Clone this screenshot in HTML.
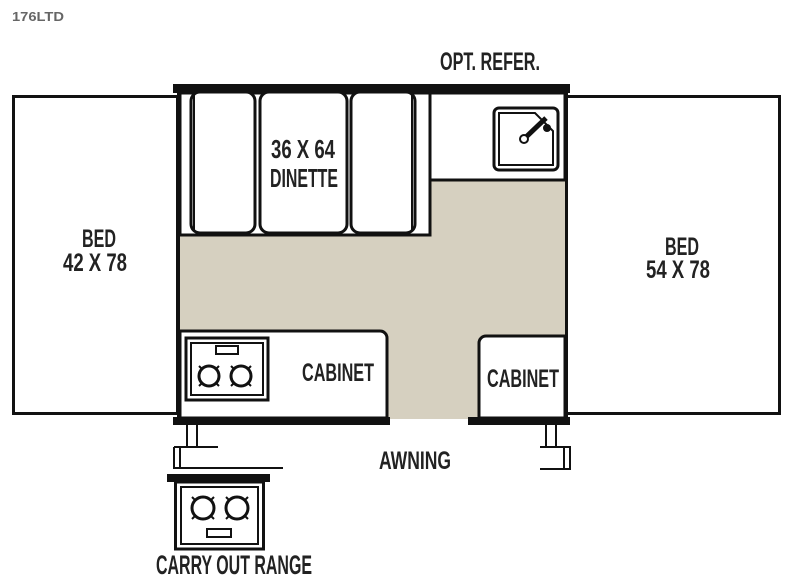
<!DOCTYPE html>
<html><head><meta charset="utf-8"><style>
html,body{margin:0;padding:0;background:#fff;}
svg{display:block;}
text{font-family:"Liberation Sans Narrow","Liberation Sans",sans-serif;font-weight:bold;fill:#222;}
</style></head><body>
<svg width="800" height="584" viewBox="0 0 800 584" xmlns="http://www.w3.org/2000/svg">
<text x="12" y="21" style="font-size:13px;fill:#666" textLength="52" lengthAdjust="spacingAndGlyphs">176LTD</text>

<rect x="13.5" y="96.5" width="164" height="317" fill="#fff" stroke="#111" stroke-width="3"/>
<rect x="566.5" y="96.5" width="213" height="317" fill="#fff" stroke="#111" stroke-width="3"/>

<rect x="178" y="92" width="388" height="327" fill="#d6d0c0"/>
<line x1="178.5" y1="90" x2="178.5" y2="420" stroke="#111" stroke-width="3"/>
<line x1="566.5" y1="90" x2="566.5" y2="420" stroke="#111" stroke-width="3"/>
<rect x="173" y="84" width="397" height="9" fill="#111"/>
<rect x="173" y="417" width="217" height="8" fill="#111"/>
<rect x="468" y="417" width="102" height="8" fill="#111"/>

<rect x="180" y="93" width="250" height="142" fill="#fff" stroke="#111" stroke-width="3"/>
<rect x="191" y="92" width="64" height="141" rx="9" fill="#fff" stroke="#111" stroke-width="3"/>
<rect x="260" y="92" width="87" height="141" rx="9" fill="#fff" stroke="#111" stroke-width="3"/>
<rect x="351" y="92" width="64" height="141" rx="9" fill="#fff" stroke="#111" stroke-width="3"/>
<line x1="194" y1="95" x2="194" y2="230" stroke="#111" stroke-width="2"/>
<line x1="412" y1="95" x2="412" y2="230" stroke="#111" stroke-width="2"/>
<text x="303" y="158" text-anchor="middle" style="font-size:26px" textLength="64" lengthAdjust="spacingAndGlyphs">36 X 64</text>
<text x="304" y="187" text-anchor="middle" style="font-size:26px" textLength="68" lengthAdjust="spacingAndGlyphs">DINETTE</text>

<rect x="430" y="93" width="135" height="87" fill="#fff" stroke="#111" stroke-width="3"/>
<rect x="494" y="108" width="64" height="62" rx="5" fill="#fff" stroke="#111" stroke-width="3"/>
<path d="M499 113 H535 L553 131 V165 H499 Z" fill="#fff" stroke="#111" stroke-width="2"/>
<line x1="526" y1="137" x2="546" y2="118" stroke="#111" stroke-width="5"/>
<circle cx="524" cy="139" r="4" fill="#fff" stroke="#111" stroke-width="2"/>
<circle cx="547" cy="128" r="4" fill="#111"/>

<path d="M180 331 H380 a7 7 0 0 1 7 7 V418 H180 Z" fill="#fff" stroke="#111" stroke-width="3"/>
<rect x="186" y="338" width="82" height="62" fill="#fff" stroke="#111" stroke-width="3"/>
<rect x="191" y="343" width="72" height="52" fill="#fff" stroke="#111" stroke-width="2"/>
<rect x="216" y="346" width="22" height="8" fill="#fff" stroke="#111" stroke-width="2"/>
<g stroke="#111" stroke-width="2">
<line x1="199" y1="366" x2="219" y2="386"/><line x1="219" y1="366" x2="199" y2="386"/>
<line x1="231" y1="366" x2="251" y2="386"/><line x1="251" y1="366" x2="231" y2="386"/>
</g>
<circle cx="209" cy="376" r="10" fill="#fff" stroke="#111" stroke-width="3"/>
<circle cx="241" cy="376" r="10" fill="#fff" stroke="#111" stroke-width="3"/>
<text x="338" y="381" text-anchor="middle" style="font-size:25px" textLength="72" lengthAdjust="spacingAndGlyphs">CABINET</text>

<path d="M565 336 H486 a7 7 0 0 0 -7 7 V418 H565 Z" fill="#fff" stroke="#111" stroke-width="3"/>
<text x="523" y="387" text-anchor="middle" style="font-size:25px" textLength="72" lengthAdjust="spacingAndGlyphs">CABINET</text>

<g fill="none" stroke="#111" stroke-width="2">
<path d="M187 425 V447 M197 425 V447 M174 447 H218 M174 447 V468 H283 M180 447 V468"/>
<path d="M546 425 V447 M556 425 V447 M540 447 H570 V469 H540 M564 447 V469"/>
</g>

<rect x="167" y="474" width="103" height="8" fill="#111"/>
<rect x="175.5" y="482" width="88" height="67" fill="#fff" stroke="#111" stroke-width="3"/>
<rect x="181" y="487" width="77" height="57" fill="#fff" stroke="#111" stroke-width="2"/>
<g stroke="#111" stroke-width="2">
<line x1="192" y1="497" x2="214" y2="519"/><line x1="214" y1="497" x2="192" y2="519"/>
<line x1="226" y1="497" x2="248" y2="519"/><line x1="248" y1="497" x2="226" y2="519"/>
</g>
<circle cx="203" cy="508" r="11" fill="#fff" stroke="#111" stroke-width="3"/>
<circle cx="237" cy="508" r="11" fill="#fff" stroke="#111" stroke-width="3"/>
<rect x="207" y="529" width="24" height="8" fill="#fff" stroke="#111" stroke-width="2"/>

<text x="490" y="70" text-anchor="middle" style="font-size:25px" textLength="100" lengthAdjust="spacingAndGlyphs">OPT. REFER.</text>
<text x="99" y="247" text-anchor="middle" style="font-size:25px" textLength="34" lengthAdjust="spacingAndGlyphs">BED</text>
<text x="95" y="271" text-anchor="middle" style="font-size:25px" textLength="64" lengthAdjust="spacingAndGlyphs">42 X 78</text>
<text x="682" y="255" text-anchor="middle" style="font-size:25px" textLength="34" lengthAdjust="spacingAndGlyphs">BED</text>
<text x="678" y="278" text-anchor="middle" style="font-size:25px" textLength="64" lengthAdjust="spacingAndGlyphs">54 X 78</text>
<text x="415" y="469" text-anchor="middle" style="font-size:25px" textLength="72" lengthAdjust="spacingAndGlyphs">AWNING</text>
<text x="234" y="574" text-anchor="middle" style="font-size:27px" textLength="156" lengthAdjust="spacingAndGlyphs">CARRY OUT RANGE</text>
</svg>
</body></html>
